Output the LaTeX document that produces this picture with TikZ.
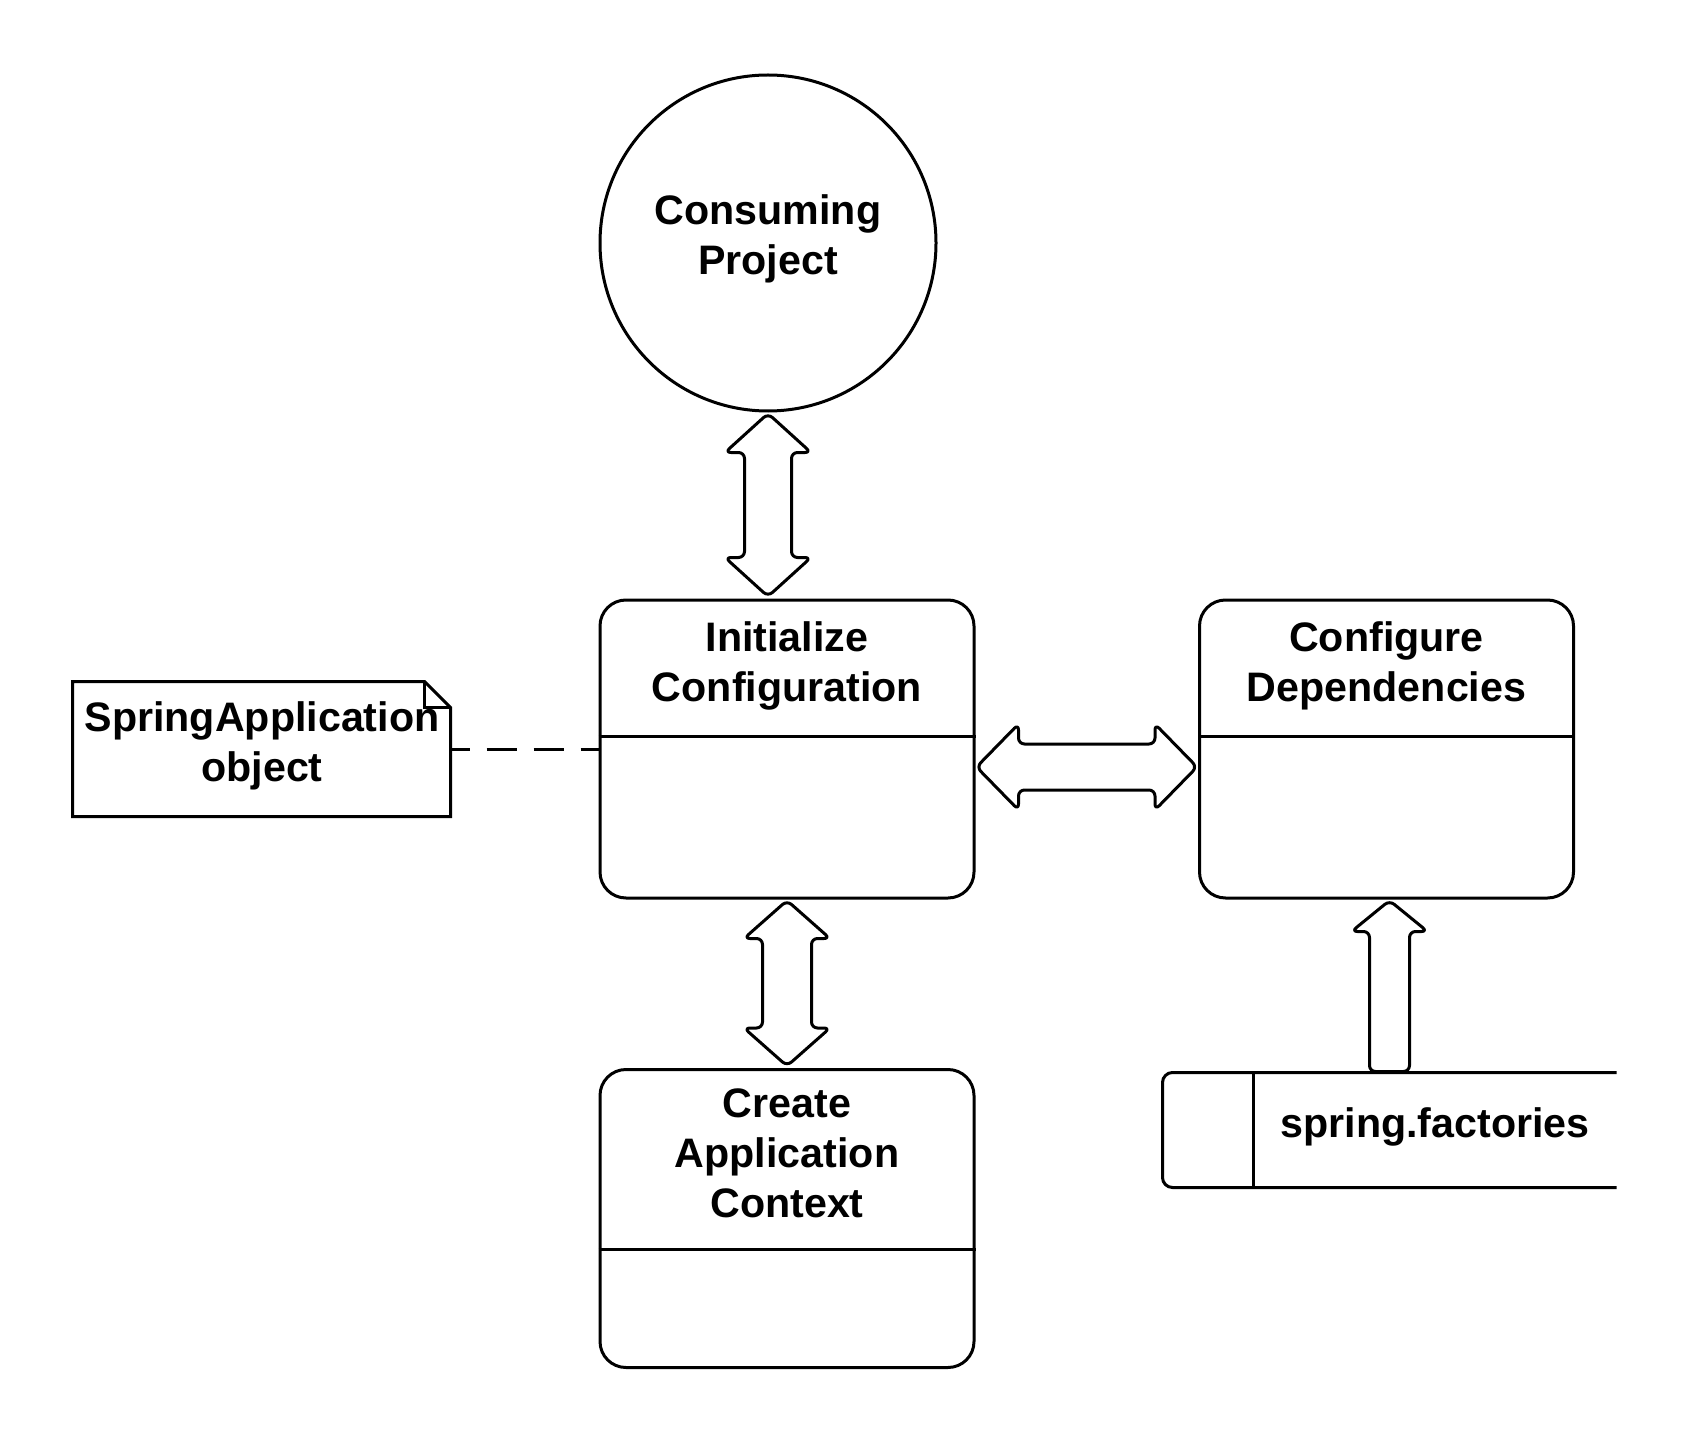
\documentclass[tikz,border=0pt]{standalone}
\usepackage{fontspec}
\setmainfont{Liberation Sans}
\usetikzlibrary{calc}
\newcommand\VDblArrow[5]{%
\draw[barrow] (#1) -- ($(#1)+(#3,#5)$) -- ($(#1)+(#4,#5)$) -- ($(#2)+(#4,-#5)$) -- ($(#2)+(#3,-#5)$) -- (#2) -- ($(#2)+(-#3,-#5)$) -- ($(#2)+(-#4,-#5)$) -- ($(#1)+(-#4,#5)$) -- ($(#1)+(-#3,#5)$) -- cycle;}
\newcommand\HDblArrow[5]{%
\draw[barrow] (#1) -- ($(#1)+(#5,-#3)$) -- ($(#1)+(#5,-#4)$) -- ($(#2)+(-#5,-#4)$) -- ($(#2)+(-#5,-#3)$) -- (#2) -- ($(#2)+(-#5,#3)$) -- ($(#2)+(-#5,#4)$) -- ($(#1)+(#5,#4)$) -- ($(#1)+(#5,#3)$) -- cycle;}
\begin{document}
\begin{tikzpicture}[x=0.5pt,y=-0.5pt,
  line width=1.5pt,
  lbl/.style={font=\fontsize{20.6pt}{25pt}\selectfont\bfseries, align=center, inner sep=0},
  box/.style={draw, rounded corners=13pt, minimum width=187pt, minimum height=149pt, inner sep=0},
  barrow/.style={draw, rounded corners=3pt, line join=round}]
\useasboundingbox (0,0) rectangle (1691,1444);
% consuming project
\node[draw, circle, minimum size=168pt, inner sep=0] (cp) at (768,243) {};
\node[lbl] (cpT) at (768,239) {Consuming\\Project};
% boxes
\node[box] (init) at (787,749) {};
\draw ($(init.north west)+(0,138)$) -- ($(init.north east)+(0,138)$);
\node[lbl] (initT) at (787,666) {Initialize\\Configuration};
\node[box] (dep) at (1386.5,749) {};
\draw ($(dep.north west)+(0,138)$) -- ($(dep.north east)+(0,138)$);
\node[lbl] (depT) at (1386.5,666) {Configure\\Dependencies};
\node[box] (cac) at (787,1218.5) {};
\draw ($(cac.north west)+(0,181)$) -- ($(cac.north east)+(0,181)$);
\node[lbl] (cacT) at (787,1153) {Create\\Application\\Context};
% note
\node[minimum width=187.5pt, minimum height=66pt, inner sep=0] (note) at (261.5,749) {};
\draw (note.south west) -- (note.north west) -- ($(note.north east)+(-26,0)$) -- ($(note.north east)+(0,26)$) -- (note.south east) -- cycle;
\draw ($(note.north east)+(-26,0)$) -- ($(note.north east)+(-26,26)$) -- ($(note.north east)+(0,26)$);
\node[lbl] (noteT) at (262,746) {SpringApplication\\object};
\draw[dash pattern=on 15pt off 8.5pt, dash phase=5.5pt] (note.east) -- (init.west |- note.east);
% spring.factories
\node[minimum width=225.5pt, minimum height=56pt, inner sep=0] (sf) at (1389.5,1130) {};
\draw[rounded corners=5pt] (sf.north east) -- (sf.north west) -- (sf.south west) -- (sf.south east);
\draw ($(sf.north west)+(91,0)$) -- ($(sf.south west)+(91,0)$);
\node[lbl, anchor=base] (sfT) at (1435,1137) {spring.factories};
% arrows
\coordinate (a1t) at ($(cp.south)+(0,1)$);
\coordinate (a1b) at ($(cp.south |- init.north)+(0,-2)$);
\VDblArrow{a1t}{a1b}{43}{23.5}{39}
\coordinate (a2t) at ($(init.south)+(0,1)$);
\coordinate (a2b) at ($(cac.north)+(0,-2)$);
\VDblArrow{a2t}{a2b}{43}{24.5}{38}
\coordinate (a3l) at ($(init.east)+(1,18)$);
\coordinate (a3r) at ($(dep.west |- a3l)+(-1,0)$);
\HDblArrow{a3l}{a3r}{43}{23}{42}
\coordinate (a4b) at ($(sf.north)+(0,-1)$);
\coordinate (a4t) at ($(sf.north |- dep.south)+(0,1)$);
\draw[barrow] (a4t) -- ($(a4t)+(38,31)$) -- ($(a4t)+(20,31)$) -- ($(a4b)+(20,0)$) -- ($(a4b)+(-20,0)$) -- ($(a4t)+(-20,31)$) -- ($(a4t)+(-38,31)$) -- cycle;
\end{tikzpicture}
\end{document}
